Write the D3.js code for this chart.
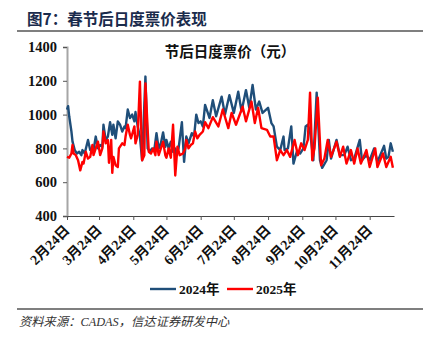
<!DOCTYPE html>
<html>
<head>
<meta charset="utf-8">
<script src="https://cdn.jsdelivr.net/npm/d3@7"></script>
<style>
  html, body { margin: 0; padding: 0; background: #fff; }
  svg { display: block; }
  .serif { font-family: "Liberation Serif", "Times New Roman", "Noto Sans CJK SC", serif; }
</style>
</head>
<body>
<svg id="chart" width="430" height="342"></svg>
<script>
// Daily fares after Spring Festival: day offsets counted from 24 Feb, values in yuan
const days2024 = [0,1,2,4,5,7,9,11,13,14,16,19,21,23,24,26,28,30,32,33,35,37,39,41,42,44,46,48,50,52,53,55,57,59,61,62,64,66,68,71,73,75,77,79,81,83,85,87,89,90,92,94,96,98,99,101,104,106,108,110,113,115,117,119,121,123,125,129,132,135,140,143,147,151,155,158,162,165,168,171,174,177,182,185,187,190,193,196,197,200,203,205,208,211,214,216,218,220,223,226,229,231,235,237,239,244,247,251,254,257,260,265,267,271,274,278,281,287,289,291,293,295];
const fare2024 = [1030,1050,990,900,840,790,770,780,760,790,770,850,790,800,790,870,800,820,810,940,850,870,955,880,940,860,960,940,900,930,920,1030,980,1000,960,1015,930,870,730,1225,800,780,800,790,890,800,830,895,810,850,800,840,780,800,760,800,955,720,870,830,890,870,1000,950,960,930,1057,980,1085,990,1106,1000,1115,1010,1135,1020,1145,1040,1175,1030,1077,1010,1040,950,930,810,790,870,790,800,930,710,780,770,800,930,940,900,730,1130,730,685,730,850,740,850,760,760,810,730,740,850,730,760,730,800,720,815,740,750,830,780];

const days2025 = [0,2,4,5,6,8,10,12,14,15,17,19,21,23,24,26,28,30,32,33,35,37,38,40,41,42,44,46,47,50,52,53,55,57,58,61,62,64,66,68,70,71,74,76,78,80,81,83,85,87,89,90,92,94,96,98,100,102,105,107,108,110,112,114,116,118,120,123,125,128,132,137,141,146,149,153,159,162,167,170,173,176,181,184,187,190,193,196,199,202,206,209,212,215,218,220,222,224,227,230,233,236,239,244,247,250,253,257,260,263,266,271,274,279,281,286,289,293,295];
const fare2025 = [750,745,770,820,770,760,730,670,720,710,780,740,750,820,760,800,840,760,800,900,830,850,715,850,655,750,700,690,800,830,820,870,940,880,860,930,830,880,1195,730,760,1185,780,770,800,760,840,760,800,840,760,745,800,745,940,640,810,760,770,800,850,800,820,830,900,860,880,900,955,920,985,930,1030,920,1010,940,1047,960,1077,950,1040,920,910,870,870,730,790,760,790,750,850,760,830,790,850,1130,730,800,1100,700,740,850,750,840,750,810,710,790,710,800,710,790,690,800,690,770,690,750,685];

const yTicks = [400,600,800,1000,1200,1400];
const tickMonths = [2,3,4,5,6,7,8,9,10,11];
const seriesNames = ["2024年","2025年"];
const seriesColors = ["#1f4e79","#ff0000"];

const svg = d3.select("#chart");
const start = new Date(2024, 1, 24);
const end = new Date(2024, 11, 16);
const toDate = d => d3.timeDay.offset(start, d);

const margin = {left: 67, right: 36, top: 47, bottom: 126};
const W = 430, H = 342;
const x = d3.scaleTime().domain([start, end]).range([margin.left, W - margin.right]);
const y = d3.scaleLinear().domain([400, 1400]).range([H - margin.bottom, margin.top]);

const serifStack = "'Liberation Serif', 'Noto Sans CJK SC', serif";

// Heading and rules
svg.append("text").attr("x", 27).attr("y", 25)
  .attr("font-family", "'Noto Sans CJK SC', sans-serif").attr("font-weight", 700)
  .attr("font-size", 15.5).attr("fill", "#1a2b4c").text("图7：春节后日度票价表现");
svg.append("line").attr("x1", 17).attr("x2", 423).attr("y1", 31).attr("y2", 31)
  .attr("stroke", "#555").attr("stroke-width", 1.6);
svg.append("line").attr("x1", 17).attr("x2", 423).attr("y1", 309).attr("y2", 309)
  .attr("stroke", "#555").attr("stroke-width", 1.4);
svg.append("text").attr("x", 19).attr("y", 326)
  .attr("font-family", serifStack).attr("font-style", "italic")
  .attr("font-size", 12.3).attr("fill", "#333").text("资料来源：CADAS，信达证券研发中心");

svg.append("text").attr("x", 230).attr("y", 57).attr("text-anchor", "middle")
  .attr("font-family", "'Noto Sans CJK SC', sans-serif").attr("font-weight", 700)
  .attr("font-size", 14.5).attr("fill", "#111").text("节后日度票价（元）");

// Y axis
const yAxis = svg.append("g").attr("transform", `translate(${margin.left},0)`)
  .call(d3.axisLeft(y).tickValues(yTicks).tickSize(4).tickPadding(6).tickFormat(d3.format("d")));
yAxis.select(".domain").attr("stroke", "#a6a6a6").attr("stroke-width", 2);
yAxis.selectAll(".tick line").attr("stroke", "#555");
yAxis.selectAll(".tick text").attr("class", "serif").attr("font-weight", 700)
  .attr("font-size", 14.5).attr("fill", "#111");

// X axis
const xTickDates = tickMonths.map(m => new Date(2024, m - 1, 24));
const xAxis = svg.append("g").attr("transform", `translate(0,${y(400)})`)
  .call(d3.axisBottom(x).tickValues(xTickDates).tickSize(4).tickSizeOuter(0)
    .tickFormat(d => `${d.getMonth() + 1}月24日`));
xAxis.select(".domain").attr("stroke", "#444").attr("stroke-width", 1.2);
xAxis.selectAll(".tick line").attr("stroke", "#555");
xAxis.selectAll(".tick text")
  .attr("font-family", serifStack).attr("font-weight", 700)
  .attr("font-size", 14).attr("fill", "#111")
  .attr("text-anchor", "end").attr("dy", 0).attr("y", 0)
  .attr("transform", "translate(3,15) rotate(-45)");

// Lines
const line = d3.line().x(p => x(toDate(p[0]))).y(p => y(p[1]));
const series = [
  d3.zip(days2024, fare2024),
  d3.zip(days2025, fare2025)
];
series.forEach((s, i) => {
  svg.append("path").datum(s).attr("d", line)
    .attr("fill", "none").attr("stroke", seriesColors[i])
    .attr("stroke-width", 2.4).attr("stroke-linejoin", "round");
});

// Legend
const legend = svg.append("g").attr("transform", "translate(150,289)");
seriesNames.forEach((name, i) => {
  const g = legend.append("g").attr("transform", `translate(${i * 77},0)`);
  g.append("line").attr("x1", 0).attr("x2", 26).attr("y1", 0).attr("y2", 0)
    .attr("stroke", seriesColors[i]).attr("stroke-width", 2.4);
  g.append("text").attr("x", 29).attr("y", 5)
    .attr("font-family", serifStack).attr("font-weight", 700)
    .attr("font-size", 13.5).attr("fill", "#111").text(name);
});
</script>
</body>
</html>
